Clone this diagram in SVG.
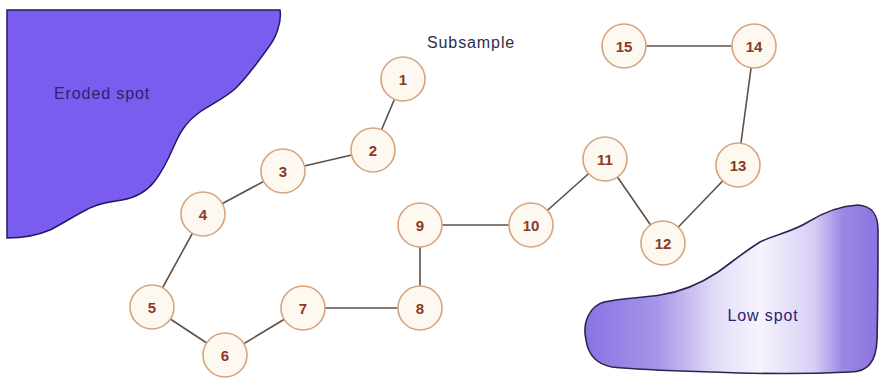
<svg xmlns="http://www.w3.org/2000/svg" width="880" height="378" viewBox="0 0 880 378">
<defs>
<linearGradient id="lowg" x1="585" y1="0" x2="878" y2="0" gradientUnits="userSpaceOnUse">
<stop offset="0" stop-color="#8a72e2"/>
<stop offset="0.25" stop-color="#a895ea"/>
<stop offset="0.45" stop-color="#e4def8"/>
<stop offset="0.6" stop-color="#f6f3fd"/>
<stop offset="0.78" stop-color="#d8cff5"/>
<stop offset="0.88" stop-color="#9c86e4"/>
<stop offset="1" stop-color="#8c74e0"/>
</linearGradient>
<style>
.node circle{fill:#fdf8f0;stroke:#d6a47e;stroke-width:1.6}
.node text{font-family:"Liberation Sans",Arial,sans-serif;font-size:15px;font-weight:bold;fill:#8a3b26;text-anchor:middle}
.edge{stroke:#5e5046;stroke-width:1.6;fill:none}
.lbl{font-family:"Liberation Sans",Arial,sans-serif;font-size:16px;letter-spacing:0.9px;fill:#2b2370}
</style>
</defs>
<rect width="880" height="378" fill="#ffffff"/>
<g id="eroded">
<path d="M7,10 L280,10 C282,22 276,38 268,48 C258,62 248,76 236,88 C225,98 212,104 200,112 C186,122 180,132 174,146 C168,160 162,172 154,182 C146,192 134,198 122,200 C108,202 96,204 86,210 C74,216 62,224 50,230 C36,236 20,238 7,238 Z" fill="#7a5cee" stroke="#231a66" stroke-width="1.5"/>
<text class="lbl" x="54" y="99">Eroded spot</text>
</g>
<g id="lowspot">
<path d="M586,340 C582,322 590,306 604,302 C622,298 640,298 660,295 C680,292 700,284 718,272 C732,262 744,252 760,242 C776,234 792,232 808,222 C824,212 840,206 858,205 C872,206 878,214 878,230 C878,260 878,300 877,340 C876,362 868,372 850,372 C810,374 760,374 713,372 C680,371 640,370 612,367 C596,364 588,354 586,340 Z" fill="url(#lowg)" stroke="#2a2550" stroke-width="1.6"/>
<text class="lbl" x="763" y="321" text-anchor="middle">Low spot</text>
</g>
<text id="subsample" x="427" y="48" style="font-family:'Liberation Sans',Arial,sans-serif;font-size:16px;letter-spacing:0.9px;fill:#2e2e48">Subsample</text>
<g id="connectors">
<line class="edge" x1="403" y1="79" x2="373" y2="150"/>
<line class="edge" x1="373" y1="150" x2="283" y2="171"/>
<line class="edge" x1="283" y1="171" x2="203" y2="214"/>
<line class="edge" x1="203" y1="214" x2="152" y2="307"/>
<line class="edge" x1="152" y1="307" x2="225" y2="355"/>
<line class="edge" x1="225" y1="355" x2="303" y2="308"/>
<line class="edge" x1="303" y1="308" x2="420" y2="308"/>
<line class="edge" x1="420" y1="308" x2="420" y2="225"/>
<line class="edge" x1="420" y1="225" x2="531" y2="225"/>
<line class="edge" x1="531" y1="225" x2="605" y2="159"/>
<line class="edge" x1="605" y1="159" x2="663" y2="243"/>
<line class="edge" x1="663" y1="243" x2="738" y2="165"/>
<line class="edge" x1="738" y1="165" x2="754" y2="46"/>
<line class="edge" x1="754" y1="46" x2="624" y2="46"/>
</g>
<g id="n1" class="node"><circle cx="403" cy="79" r="22"/><text x="403" y="84.5">1</text></g>
<g id="n2" class="node"><circle cx="373" cy="150" r="22"/><text x="373" y="155.5">2</text></g>
<g id="n3" class="node"><circle cx="283" cy="171" r="22"/><text x="283" y="176.5">3</text></g>
<g id="n4" class="node"><circle cx="203" cy="214" r="22"/><text x="203" y="219.5">4</text></g>
<g id="n5" class="node"><circle cx="152" cy="307" r="22"/><text x="152" y="312.5">5</text></g>
<g id="n6" class="node"><circle cx="225" cy="355" r="22"/><text x="225" y="360.5">6</text></g>
<g id="n7" class="node"><circle cx="303" cy="308" r="22"/><text x="303" y="313.5">7</text></g>
<g id="n8" class="node"><circle cx="420" cy="308" r="22"/><text x="420" y="313.5">8</text></g>
<g id="n9" class="node"><circle cx="420" cy="225" r="22"/><text x="420" y="230.5">9</text></g>
<g id="n10" class="node"><circle cx="531" cy="225" r="22"/><text x="531" y="230.5">10</text></g>
<g id="n11" class="node"><circle cx="605" cy="159" r="22"/><text x="605" y="164.5">11</text></g>
<g id="n12" class="node"><circle cx="663" cy="243" r="22"/><text x="663" y="248.5">12</text></g>
<g id="n13" class="node"><circle cx="738" cy="165" r="22"/><text x="738" y="170.5">13</text></g>
<g id="n14" class="node"><circle cx="754" cy="46" r="22"/><text x="754" y="51.5">14</text></g>
<g id="n15" class="node"><circle cx="624" cy="46" r="22"/><text x="624" y="51.5">15</text></g>
</svg>
